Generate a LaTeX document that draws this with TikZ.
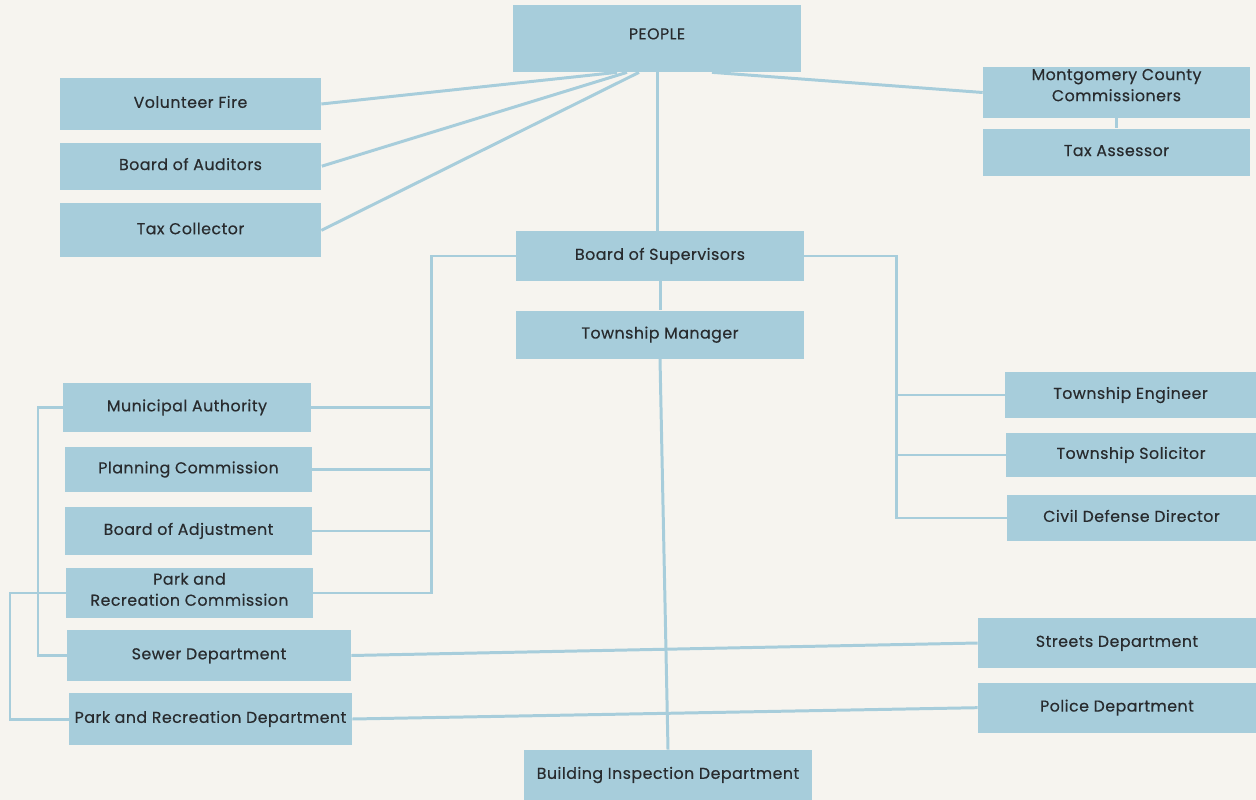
\documentclass[tikz,border=0pt]{standalone}
\usepackage{fontspec}
\setmainfont{Poppins}[LetterSpace=3, FakeBold=0.4]
\usepackage{tikz}
\usetikzlibrary{positioning, calc}
\definecolor{boxblue}{RGB}{167,205,219}
\definecolor{paper}{RGB}{246,244,239}
\definecolor{ink}{RGB}{40,43,46}
\tikzstyle{block} = [rectangle, fill=boxblue, text=ink, text centered, inner sep=0pt, font=\fontsize{9}{12}\selectfont, text height=7pt, text depth=2.6pt]
\tikzstyle{line} = [draw, boxblue, line width=1.7pt]

\begin{document}
\begin{tikzpicture}[x=0.02cm, y=-0.02cm, node distance=0.24cm]
    \fill[paper] (0,0) rectangle (1256,800);
    \useasboundingbox (0,0) rectangle (1256,800);

    % top row
    \node (people) [block, text depth=6pt, minimum width=5.76cm, minimum height=1.34cm] at (657,38.5) {PEOPLE};
    \node (volfire) [block, minimum width=5.22cm, minimum height=1.04cm] at (190.5,104) {Volunteer Fire};
    \node (auditors) [block, minimum width=5.24cm, minimum height=0.94cm, below=of volfire] {Board of Auditors};
    \node (taxcoll) [block, minimum width=5.22cm, minimum height=1.08cm, below=0.26cm of auditors] {Tax Collector};
    \node (county) [block, text height=10pt, text depth=12.4pt, minimum width=5.34cm, minimum height=1.02cm] at (1116.5,92.5)
        {\begin{tabular}{@{}c@{}}Montgomery County\\Commissioners\end{tabular}};
    \node (assessor) [block, minimum width=5.34cm, minimum height=0.94cm, below=0.2cm of county] {Tax Assessor};

    % centre column
    \node (supervisors) [block, minimum width=5.76cm, minimum height=1.0cm] at (660,256) {Board of Supervisors};
    \node (manager) [block, minimum width=5.78cm, minimum height=0.96cm, below=0.58cm of supervisors] {Township Manager};
    \node (building) [block, minimum width=5.76cm, minimum height=1.0cm] at (668,775) {Building Inspection Department};

    % left column
    \node (authority) [block, minimum width=4.96cm, minimum height=0.98cm] at (187,407.5) {Municipal Authority};
    \node (planning) [block, minimum width=4.94cm, minimum height=0.9cm] at (188.5,469.5) {Planning Commission};
    \node (adjustment) [block, minimum width=4.94cm, minimum height=0.96cm] at (188.5,531) {Board of Adjustment};
    \node (parkcomm) [block, text height=12pt, text depth=9.8pt, minimum width=4.94cm, minimum height=1.0cm] at (189.5,593)
        {\begin{tabular}{@{}c@{}}Park and\\Recreation Commission\end{tabular}};
    \node (sewer) [block, minimum width=5.68cm, minimum height=1.02cm] at (209,655.5) {Sewer Department};
    \node (parkdept) [block, minimum width=5.66cm, minimum height=1.04cm] at (210.5,719) {Park and Recreation Department};

    % right column
    \node (engineer) [block, minimum width=5.02cm, minimum height=0.92cm] at (1130.5,395) {Township Engineer};
    \node (solicitor) [block, minimum width=5.0cm, minimum height=0.88cm] at (1131,455) {Township Solicitor};
    \node (civil) [block, minimum width=4.98cm, minimum height=0.92cm] at (1131.5,518) {Civil Defense Director};
    \node (streets) [block, minimum width=5.56cm, minimum height=1.0cm] at (1117,643) {Streets Department};
    \node (police) [block, minimum width=5.56cm, minimum height=1.0cm, below=0.28cm of streets] {Police Department};

    \coordinate (leftbus) at (431,593);
    \coordinate (rightbus) at (896,518);
    \coordinate (sewerbus) at (38,655.5);
    \coordinate (parkbus) at (10,719);

    \path [line] (volfire.east) -- ([xshift=-0.8cm]people.south);
    \path [line] (auditors.east) -- ([xshift=-0.6cm]people.south);
    \path [line] (taxcoll.east) -- ([xshift=-0.36cm]people.south);
    \path [line] ([xshift=1.1cm]people.south) -- (county.west);
    \path [line] (county.south) -- (assessor.north);
    \path [line] (people.south) -- (people.south |- supervisors.north);
    \path [line] (supervisors.south) -- (manager.north);
    \path [line] (manager.south) -- (building.north);

    \path [line] (supervisors.west) -| (leftbus) -- (parkcomm.east);
    \path [line] (authority.east) -- (authority.east -| leftbus);
    \path [line] (planning.east) -- (planning.east -| leftbus);
    \path [line] (adjustment.east) -- (adjustment.east -| leftbus);

    \path [line] (supervisors.east) -| (rightbus) -- (civil.west);
    \path [line] (engineer.west) -- (engineer.west -| rightbus);
    \path [line] (solicitor.west) -- (solicitor.west -| rightbus);

    \path [line] (authority.west) -| (sewerbus) -- (sewer.west);
    \path [line] (parkcomm.west) -| (parkbus) -- (parkdept.west);
    \path [line] (sewer.east) -- (streets.west);
    \path [line] (parkdept.east) -- (police.west);

\end{tikzpicture}
\end{document}
